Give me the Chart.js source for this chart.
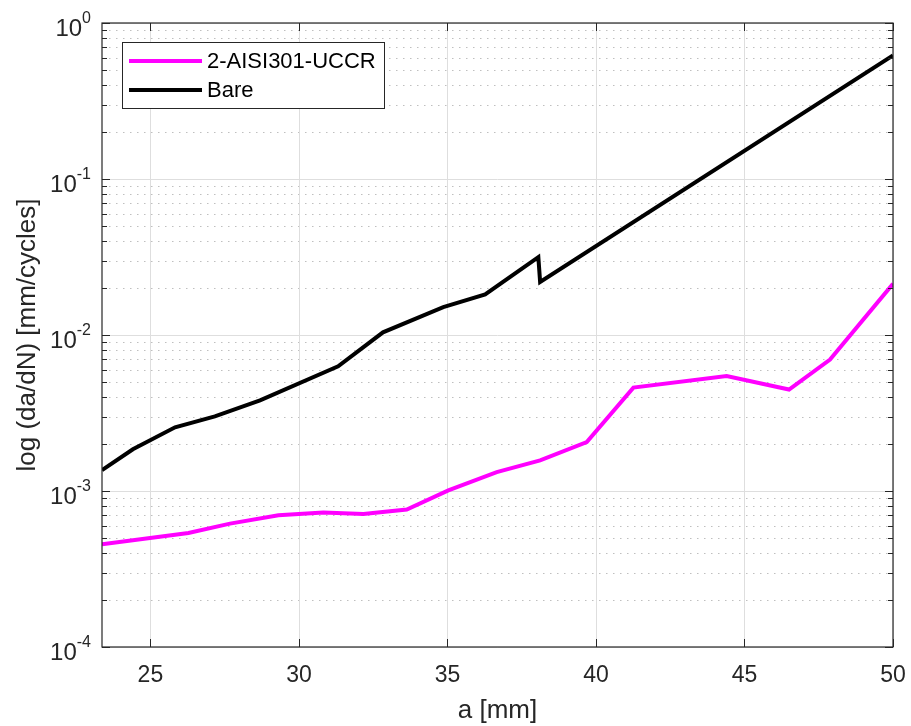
<!DOCTYPE html>
<html>
<head>
<meta charset="utf-8">
<script src="https://cdn.jsdelivr.net/npm/chart.js@4.4.1/dist/chart.umd.min.js"></script>
<style>
  html, body { margin: 0; padding: 0; background: #ffffff; }
  #wrap { width: 911px; height: 726px; }
</style>
</head>
<body>
<div id="wrap"><canvas id="growthChart" width="911" height="726"></canvas></div>
<script>
// crack length a [mm] and growth rate da/dN [mm/cycle]
const repairedA = [23.37, 26.28, 27.68, 29.31, 30.82, 32.17, 33.63, 35.03, 36.66, 38.12, 39.69, 41.26, 44.4, 46.5, 47.88, 50];
const repairedRate = [4.55e-4, 5.38e-4, 6.18e-4, 6.98e-4, 7.27e-4, 7.13e-4, 7.6e-4, 1.01e-3, 1.32e-3, 1.57e-3, 2.06e-3, 4.6e-3, 5.46e-3, 4.47e-3, 6.95e-3, 2.13e-2];

const bareA = [23.37, 24.41, 25.83, 27.17, 28.69, 31.32, 32.83, 34.86, 36.27, 38.06, 38.12, 50];
const bareRate = [1.36e-3, 1.85e-3, 2.56e-3, 3.01e-3, 3.81e-3, 6.3e-3, 1.04e-2, 1.51e-2, 1.82e-2, 3.16e-2, 2.19e-2, 0.62];

const seriesLabels = ["2-AISI301-UCCR", "Bare"];
const seriesColors = ["#ff00ff", "#000000"];

const xTicks = [25, 30, 35, 40, 45, 50];
const yExponents = [-4, -3, -2, -1, 0];

const FONT = '"Liberation Sans", Arial, Helvetica, sans-serif';
const AXIS_COLOR = "#262626";

const toPoints = (xs, ys) => xs.map((x, i) => ({ x: x, y: ys[i] }));

// grid, box, ticks, labels and legend drawn the matlab way
const axesPlugin = {
  id: "matlabAxes",
  beforeDatasetsDraw(chart) {
    const { ctx, chartArea: a } = chart;
    const xs = chart.scales.x, ys = chart.scales.y;
    ctx.save();
    ctx.fillStyle = "#ffffff";
    ctx.fillRect(0, 0, chart.width, chart.height);

    // minor y grid (dotted)
    ctx.strokeStyle = "#bfbfbf";
    ctx.lineWidth = 1;
    ctx.setLineDash([1.5, 5.5]);
    yExponents.slice(0, -1).forEach((e) => {
      for (let m = 2; m <= 9; m++) {
        const py = Math.round(ys.getPixelForValue(m * Math.pow(10, e))) + 0.5;
        ctx.beginPath();
        ctx.moveTo(a.left, py);
        ctx.lineTo(a.right, py);
        ctx.stroke();
      }
    });
    ctx.setLineDash([]);

    // major grid (solid)
    ctx.strokeStyle = "#dedede";
    yExponents.forEach((e) => {
      const py = Math.round(ys.getPixelForValue(Math.pow(10, e))) + 0.5;
      ctx.beginPath();
      ctx.moveTo(a.left, py);
      ctx.lineTo(a.right, py);
      ctx.stroke();
    });
    xTicks.forEach((v) => {
      const px = Math.round(xs.getPixelForValue(v)) + 0.5;
      ctx.beginPath();
      ctx.moveTo(px, a.top);
      ctx.lineTo(px, a.bottom);
      ctx.stroke();
    });
    ctx.restore();
  },
  afterDatasetsDraw(chart) {
    const { ctx, chartArea: a } = chart;
    const xs = chart.scales.x, ys = chart.scales.y;
    ctx.save();

    // axes box
    ctx.strokeStyle = AXIS_COLOR;
    ctx.lineWidth = 1.2;
    ctx.strokeRect(a.left, a.top, a.right - a.left, a.bottom - a.top);

    // x ticks, inward, bottom and top
    ctx.lineWidth = 1;
    xTicks.forEach((v) => {
      const px = Math.round(xs.getPixelForValue(v)) + 0.5;
      ctx.beginPath();
      ctx.moveTo(px, a.bottom);
      ctx.lineTo(px, a.bottom - 8);
      ctx.moveTo(px, a.top);
      ctx.lineTo(px, a.top + 8);
      ctx.stroke();
    });

    // y ticks, major and minor, left and right
    yExponents.forEach((e, i) => {
      const py = Math.round(ys.getPixelForValue(Math.pow(10, e))) + 0.5;
      ctx.beginPath();
      ctx.moveTo(a.left, py);
      ctx.lineTo(a.left + 8, py);
      ctx.moveTo(a.right, py);
      ctx.lineTo(a.right - 8, py);
      ctx.stroke();
      if (i < yExponents.length - 1) {
        for (let m = 2; m <= 9; m++) {
          const pm = Math.round(ys.getPixelForValue(m * Math.pow(10, e))) + 0.5;
          ctx.beginPath();
          ctx.moveTo(a.left, pm);
          ctx.lineTo(a.left + 5, pm);
          ctx.moveTo(a.right, pm);
          ctx.lineTo(a.right - 5, pm);
          ctx.stroke();
        }
      }
    });

    // tick labels
    ctx.fillStyle = AXIS_COLOR;
    ctx.font = "23px " + FONT;
    ctx.textAlign = "center";
    ctx.textBaseline = "middle";
    xTicks.forEach((v) => {
      ctx.fillText(String(v), xs.getPixelForValue(v), a.bottom + 29);
    });

    yExponents.forEach((e) => {
      const py = ys.getPixelForValue(Math.pow(10, e));
      const sup = String(e);
      const right = a.left - 11;
      ctx.font = "16px " + FONT;
      const supW = ctx.measureText(sup).width;
      ctx.textAlign = "right";
      ctx.fillText(sup, right, py - 4);
      ctx.font = "24px " + FONT;
      ctx.fillText("10", right - supW, py + 6);
    });

    // axis titles
    ctx.font = "26px " + FONT;
    ctx.textAlign = "center";
    ctx.fillText("a [mm]", (a.left + a.right) / 2, a.bottom + 64);
    ctx.save();
    ctx.translate(28, (a.top + a.bottom) / 2);
    ctx.rotate(-Math.PI / 2);
    ctx.fillText("log (da/dN) [mm/cycles]", 0, 0);
    ctx.restore();

    // legend box
    const lx = 122, ly = 42, lw = 262, lh = 66;
    ctx.fillStyle = "#ffffff";
    ctx.fillRect(lx, ly, lw, lh);
    ctx.strokeStyle = AXIS_COLOR;
    ctx.lineWidth = 1;
    ctx.strokeRect(lx + 0.5, ly + 0.5, lw, lh);
    chart.data.datasets.forEach((ds, i) => {
      const ry = ly + 19 + i * 29;
      ctx.strokeStyle = ds.borderColor;
      ctx.lineWidth = 4;
      ctx.beginPath();
      ctx.moveTo(lx + 7, ry);
      ctx.lineTo(lx + 80, ry);
      ctx.stroke();
      ctx.fillStyle = "#000000";
      ctx.font = "22px " + FONT;
      ctx.textAlign = "left";
      ctx.textBaseline = "middle";
      ctx.fillText(ds.label, lx + 85, ry + 1);
    });

    ctx.restore();
  }
};

const growthChart = new Chart(document.getElementById("growthChart"), {
  type: "line",
  data: {
    datasets: [
      {
        label: seriesLabels[0],
        data: toPoints(repairedA, repairedRate),
        borderColor: seriesColors[0],
        borderWidth: 4,
        pointRadius: 0,
        tension: 0,
        fill: false
      },
      {
        label: seriesLabels[1],
        data: toPoints(bareA, bareRate),
        borderColor: seriesColors[1],
        borderWidth: 4,
        pointRadius: 0,
        tension: 0,
        fill: false
      }
    ]
  },
  options: {
    responsive: false,
    animation: false,
    parsing: false,
    layout: { padding: { left: 102, top: 23, right: 18, bottom: 79 } },
    plugins: {
      legend: { display: false },
      tooltip: { enabled: false }
    },
    scales: {
      x: { type: "linear", min: 23.37, max: 50, display: false },
      y: { type: "logarithmic", min: 1e-4, max: 1, display: false }
    }
  },
  plugins: [axesPlugin]
});
</script>
</body>
</html>
